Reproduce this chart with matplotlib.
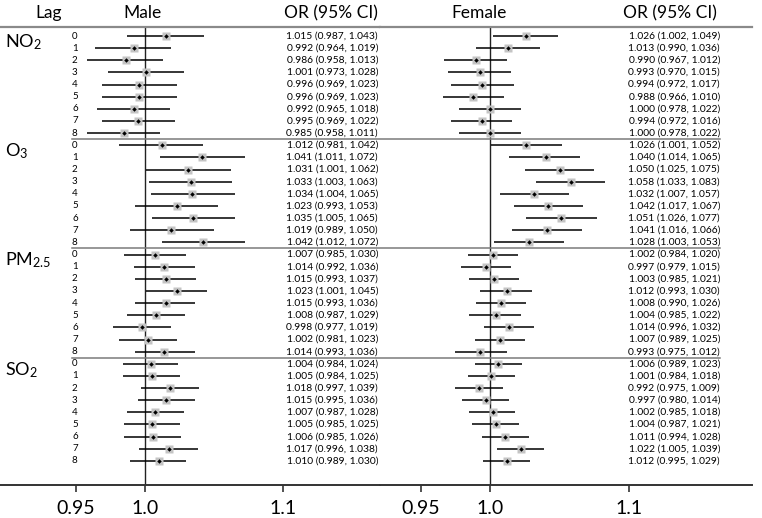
import matplotlib.pyplot as plt
import numpy as np

plt.rcParams["font.family"] = "Lato"
plt.rcParams["mathtext.fontset"] = "custom"
plt.rcParams["mathtext.rm"] = "Lato"
plt.rcParams["mathtext.it"] = "Lato"

pollutants = ["NO$_2$", "O$_3$", "PM$_{2.5}$", "SO$_2$"]
lags = list(range(9))

male_or = [1.015, 0.992, 0.986, 1.001, 0.996, 0.996, 0.992, 0.995, 0.985,
           1.012, 1.041, 1.031, 1.033, 1.034, 1.023, 1.035, 1.019, 1.042,
           1.007, 1.014, 1.015, 1.023, 1.015, 1.008, 0.998, 1.002, 1.014,
           1.004, 1.005, 1.018, 1.015, 1.007, 1.005, 1.006, 1.017, 1.010]
male_lo = [0.987, 0.964, 0.958, 0.973, 0.969, 0.969, 0.965, 0.969, 0.958,
           0.981, 1.011, 1.001, 1.003, 1.004, 0.993, 1.005, 0.989, 1.012,
           0.985, 0.992, 0.993, 1.001, 0.993, 0.987, 0.977, 0.981, 0.993,
           0.984, 0.984, 0.997, 0.995, 0.987, 0.985, 0.985, 0.996, 0.989]
male_hi = [1.043, 1.019, 1.013, 1.028, 1.023, 1.023, 1.018, 1.022, 1.011,
           1.042, 1.072, 1.062, 1.063, 1.065, 1.053, 1.065, 1.050, 1.072,
           1.030, 1.036, 1.037, 1.045, 1.036, 1.029, 1.019, 1.023, 1.036,
           1.024, 1.025, 1.039, 1.036, 1.028, 1.025, 1.026, 1.038, 1.030]

female_or = [1.026, 1.013, 0.990, 0.993, 0.994, 0.988, 1.000, 0.994, 1.000,
             1.026, 1.040, 1.050, 1.058, 1.032, 1.042, 1.051, 1.041, 1.028,
             1.002, 0.997, 1.003, 1.012, 1.008, 1.004, 1.014, 1.007, 0.993,
             1.006, 1.001, 0.992, 0.997, 1.002, 1.004, 1.011, 1.022, 1.012]
female_lo = [1.002, 0.990, 0.967, 0.970, 0.972, 0.966, 0.978, 0.972, 0.978,
             1.001, 1.014, 1.025, 1.033, 1.007, 1.017, 1.026, 1.016, 1.003,
             0.984, 0.979, 0.985, 0.993, 0.990, 0.985, 0.996, 0.989, 0.975,
             0.989, 0.984, 0.975, 0.980, 0.985, 0.987, 0.994, 1.005, 0.995]
female_hi = [1.049, 1.036, 1.012, 1.015, 1.017, 1.010, 1.022, 1.016, 1.022,
             1.052, 1.065, 1.075, 1.083, 1.057, 1.067, 1.077, 1.066, 1.053,
             1.020, 1.015, 1.021, 1.030, 1.026, 1.022, 1.032, 1.025, 1.012,
             1.023, 1.018, 1.009, 1.014, 1.018, 1.021, 1.028, 1.039, 1.029]

xticks = [0.95, 1.0, 1.1]
xticklabels = ["0.95", "1.0", "1.1"]

# layout in pixels (762 x 518 figure)
W, H = 762, 518
top_px, bot_px = 27, 485
row0_px, row_step = 36, 12.14

fig = plt.figure(figsize=(W / 100, H / 100), dpi=100)


def make_axes(left_px, right_px, one_px, px_per_unit):
    ax = fig.add_axes([left_px / W, 1 - bot_px / H,
                       (right_px - left_px) / W, (bot_px - top_px) / H])
    ax.set_xlim(1 - (one_px - left_px) / px_per_unit,
                1 + (right_px - one_px) / px_per_unit)
    ax.set_ylim((bot_px - row0_px) / row_step, (top_px - row0_px) / row_step)
    for s in ["left", "right"]:
        ax.spines[s].set_visible(False)
    ax.spines["top"].set_color("#8a8a8a")
    ax.spines["top"].set_linewidth(1.6)
    ax.spines["bottom"].set_color("#333333")
    ax.spines["bottom"].set_linewidth(1.4)
    ax.set_yticks([])
    ax.set_xticks(xticks)
    ax.set_xticklabels(xticklabels)
    ax.tick_params(axis="x", direction="out", length=5, width=1.2,
                   color="#333333", labelsize=14, pad=6)
    ax.axvline(1.0, color="#222222", lw=1.0, zorder=1)
    return ax


ax_m = make_axes(0, 380, 145, 1383)
ax_f = make_axes(380, 752, 490, 1390)

rows = np.arange(len(male_or))


def draw_panel(ax, or_, lo, hi, text_x, sep_span):
    ax.hlines(rows, lo, hi, color="black", lw=1.1, zorder=2)
    ax.plot(or_, rows, "s", ms=5.2, color="#c4c4c4", mec="none", zorder=3)
    ax.plot(or_, rows, "D", ms=2.3, color="black", mec="none", zorder=4)
    for r, o, l, h in zip(rows, or_, lo, hi):
        ax.text(text_x, r, f"{o:.3f} ({l:.3f}, {h:.3f})",
                transform=ax.get_yaxis_transform(), ha="right", va="center",
                fontsize=7.4)
    for g in range(1, len(pollutants)):
        ax.axhline(g * 9 - 0.5, xmin=sep_span[0], xmax=sep_span[1],
                   color="#7a7a7a", lw=1.1)


draw_panel(ax_m, male_or, male_lo, male_hi, 0.995, (72 / 380, 1.0))
draw_panel(ax_f, female_or, female_lo, female_hi, 0.914, (0.0, 340 / 372))

# lag labels and pollutant names
for g, name in enumerate(pollutants):
    ax_m.text(0.012, g * 9 + 0.5, name, transform=ax_m.get_yaxis_transform(),
              ha="left", va="center", fontsize=13)
    for lag in lags:
        ax_m.text(0.197, g * 9 + lag, str(lag),
                  transform=ax_m.get_yaxis_transform(),
                  ha="center", va="center", fontsize=7)

# headers
hy = 1 + (top_px - 13) / (bot_px - top_px)
ax_m.text(0.129, hy, "Lag", transform=ax_m.transAxes, ha="center",
          va="center", fontsize=12.5)
ax_m.text(0.376, hy, "Male", transform=ax_m.transAxes, ha="center",
          va="center", fontsize=12.5)
ax_m.text(0.871, hy, "OR (95% CI)", transform=ax_m.transAxes, ha="center",
          va="center", fontsize=12.5)
ax_f.text(0.266, hy, "Female", transform=ax_f.transAxes, ha="center",
          va="center", fontsize=12.5)
ax_f.text(0.780, hy, "OR (95% CI)", transform=ax_f.transAxes, ha="center",
          va="center", fontsize=12.5)

fig.savefig("out.png", dpi=100)
